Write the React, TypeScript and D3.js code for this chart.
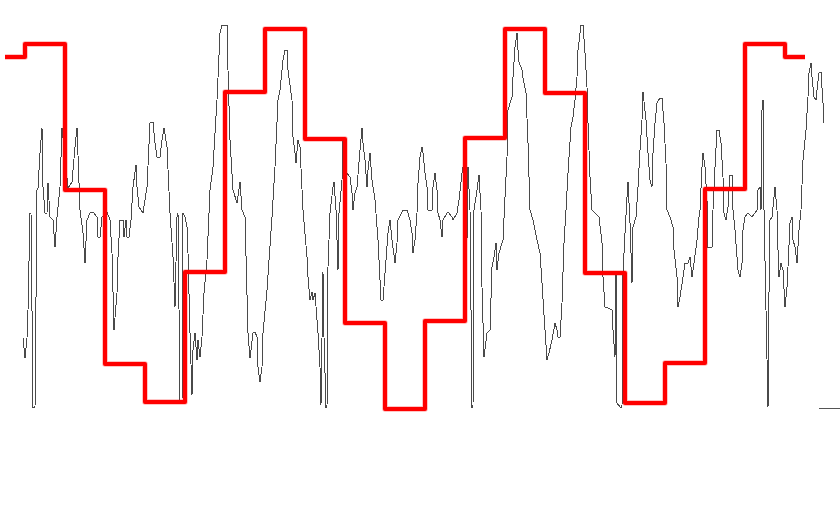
import { useEffect, useRef } from 'react';
import * as d3 from 'd3';

// step series: one level per sample block (40 samples wide)
const stepIndex = d3.range(21);
const stepLevels = [353, 366, 220, 46, 8, 138, 318, 381, 271, 87, 1, 89, 272, 381, 317, 137, 7, 47, 221, 366, 353];

// noisy signal: [sample, level]
const signal: [number, number][] = [
  [18, 72], [20, 52], [22, 72], [23, 100], [25, 197], [26, 197], [28, 3], [30, 3], [32, 220], [33, 222],
  [35, 257], [37, 282], [38, 223], [40, 197], [42, 197], [43, 227], [45, 193], [48, 190], [50, 163], [52, 193],
  [55, 223], [57, 282], [60, 253], [63, 222], [67, 228], [70, 263], [72, 282], [75, 200], [78, 177], [80, 147],
  [82, 190], [85, 197], [88, 198], [92, 193], [93, 173], [95, 173], [97, 193], [102, 198], [105, 190], [107, 157],
  [109, 80], [112, 117], [113, 153], [115, 190], [118, 190], [119, 173], [121, 190], [122, 173], [124, 173], [126, 190],
  [128, 223], [131, 245], [132, 223], [134, 203], [138, 197], [142, 223], [145, 287], [148, 288], [150, 267], [152, 253],
  [155, 253], [157, 270], [159, 282], [162, 263], [165, 197], [168, 153], [170, 103], [172, 193], [173, 197], [175, 7],
  [177, 7], [178, 197], [180, 193], [182, 183], [183, 157], [185, 77], [187, 15], [188, 60], [190, 77], [192, 50],
  [193, 70], [195, 53], [197, 73], [199, 117], [202, 150], [205, 220], [208, 243], [212, 310], [215, 377], [217, 385],
  [222, 385], [223, 340], [225, 270], [228, 220], [232, 207], [235, 228], [237, 200], [240, 193], [243, 77], [245, 52],
  [248, 77], [250, 78], [252, 73], [253, 43], [255, 28], [257, 43], [258, 77], [262, 120], [267, 193], [270, 243],
  [273, 310], [275, 320], [278, 350], [280, 360], [282, 360], [283, 340], [287, 310], [288, 273], [290, 257], [291, 247],
  [293, 270], [295, 263], [298, 200], [302, 153], [303, 133], [305, 110], [307, 118], [308, 110], [310, 117], [313, 77],
  [315, 43], [316, 5], [318, 138], [319, 73], [321, 3], [322, 3], [323, 143], [325, 197], [328, 223], [329, 228],
  [331, 200], [333, 140], [334, 197], [337, 230], [338, 270], [342, 237], [345, 233], [347, 217], [348, 200], [350, 217],
  [352, 223], [355, 260], [357, 282], [358, 267], [360, 250], [362, 223], [363, 240], [365, 257], [367, 230], [370, 210],
  [373, 170], [376, 110], [378, 110], [381, 150], [383, 177], [385, 190], [387, 170], [390, 147], [392, 167], [393, 190],
  [398, 200], [402, 200], [405, 190], [407, 177], [408, 157], [410, 170], [412, 197], [413, 227], [415, 253], [417, 263],
  [418, 257], [420, 237], [422, 223], [423, 200], [427, 200], [428, 223], [430, 237], [432, 220], [433, 197], [435, 190],
  [437, 173], [438, 190], [442, 197], [443, 198], [447, 193], [448, 190], [452, 197], [454, 210], [457, 237], [458, 243],
  [460, 217], [462, 170], [463, 243], [465, 200], [467, 3], [468, 3], [469, 200], [472, 220], [474, 235], [476, 200],
  [477, 123], [479, 53], [482, 77], [485, 80], [487, 143], [489, 153], [491, 167], [492, 140], [494, 157], [497, 167],
  [498, 170], [500, 213], [502, 253], [503, 300], [507, 313], [508, 333], [510, 363], [512, 377], [513, 360], [514, 348],
  [517, 340], [518, 332], [521, 317], [523, 267], [525, 200], [528, 190], [532, 170], [535, 157], [537, 127], [540, 80],
  [542, 50], [544, 57], [547, 70], [550, 87], [552, 80], [553, 73], [555, 73], [557, 107], [559, 167], [561, 200],
  [563, 237], [566, 283], [568, 293], [570, 310], [572, 333], [573, 360], [576, 385], [578, 385], [580, 357], [582, 323],
  [583, 287], [585, 233], [587, 200], [590, 197], [594, 193], [597, 167], [598, 133], [600, 103], [603, 102], [607, 100],
  [608, 80], [610, 53], [611, 137], [612, 7], [615, 3], [617, 3], [618, 137], [620, 177], [622, 213], [623, 228],
  [625, 187], [627, 127], [628, 183], [631, 193], [633, 223], [635, 260], [637, 290], [638, 318], [641, 290], [643, 257],
  [645, 230], [647, 223], [648, 257], [650, 287], [652, 307], [655, 312], [657, 312], [659, 287], [661, 247], [662, 200],
  [665, 193], [668, 183], [669, 160], [672, 133], [673, 103], [675, 113], [678, 133], [680, 147], [683, 147], [685, 153],
  [687, 133], [689, 147], [692, 170], [694, 193], [695, 200], [697, 243], [698, 257], [700, 243], [702, 210], [703, 163],
  [707, 163], [708, 200], [710, 243], [712, 280], [714, 280], [716, 267], [718, 233], [719, 197], [721, 190], [723, 203],
  [725, 235], [727, 235], [728, 200], [730, 180], [732, 153], [733, 140], [735, 133], [737, 147], [738, 180], [740, 193],
  [743, 197], [747, 193], [750, 197], [752, 200], [753, 220], [755, 223], [756, 200], [757, 300], [758, 310], [759, 200],
  [761, 100], [763, 3], [764, 117], [765, 190], [767, 193], [769, 213], [770, 223], [772, 200], [773, 160], [774, 133],
  [776, 147], [778, 140], [780, 103], [782, 123], [783, 143], [785, 187], [787, 193], [788, 170], [790, 163], [792, 147],
  [794, 180], [796, 200], [798, 250], [801, 280], [803, 313], [804, 337], [806, 347], [807, 333], [809, 313], [811, 310],
  [812, 320], [814, 337], [816, 338], [818, 307], [819, 287],
];

// short baseline stub at bottom right
const baseline: [number, number][] = [[814, 2], [835, 2]];

const W = 840;
const H = 525;

export default function App() {
  const ref = useRef<SVGSVGElement>(null);

  useEffect(() => {
    const svg = d3.select(ref.current);
    svg.selectAll('*').remove();

    const x = d3.scaleLinear().domain([0, 800]).range([5, 805]);
    const y = d3.scaleLinear().domain([0, 400]).range([410, 10]);

    const sigLine = d3
      .line<[number, number]>()
      .x((d) => x(d[0]))
      .y((d) => y(d[1]));

    svg
      .append('path')
      .datum(signal)
      .attr('d', sigLine)
      .attr('fill', 'none')
      .attr('stroke', '#4a4a4a')
      .attr('stroke-width', 1)
      .attr('shape-rendering', 'crispEdges');

    svg
      .append('path')
      .datum(baseline)
      .attr('d', sigLine)
      .attr('fill', 'none')
      .attr('stroke', '#555')
      .attr('stroke-width', 1)
      .attr('shape-rendering', 'crispEdges');

    const stepLine = d3
      .line<number>()
      .x((i) => x(i * 40))
      .y((i) => y(stepLevels[i]))
      .curve(d3.curveStep);

    // soft halo under the step line
    svg
      .append('path')
      .datum(stepIndex)
      .attr('d', stepLine)
      .attr('fill', 'none')
      .attr('stroke', 'rgba(255,0,0,0.3)')
      .attr('stroke-width', 5.5)
      .attr('stroke-linejoin', 'round');

    svg
      .append('path')
      .datum(stepIndex)
      .attr('d', stepLine)
      .attr('fill', 'none')
      .attr('stroke', '#ff0000')
      .attr('stroke-width', 4)
      .attr('stroke-linejoin', 'round');
  }, []);

  return (
    <svg
      ref={ref}
      width={W}
      height={H}
      style={{ position: 'fixed', left: 0, top: 0, background: '#fff' }}
    ></svg>
  );
}
